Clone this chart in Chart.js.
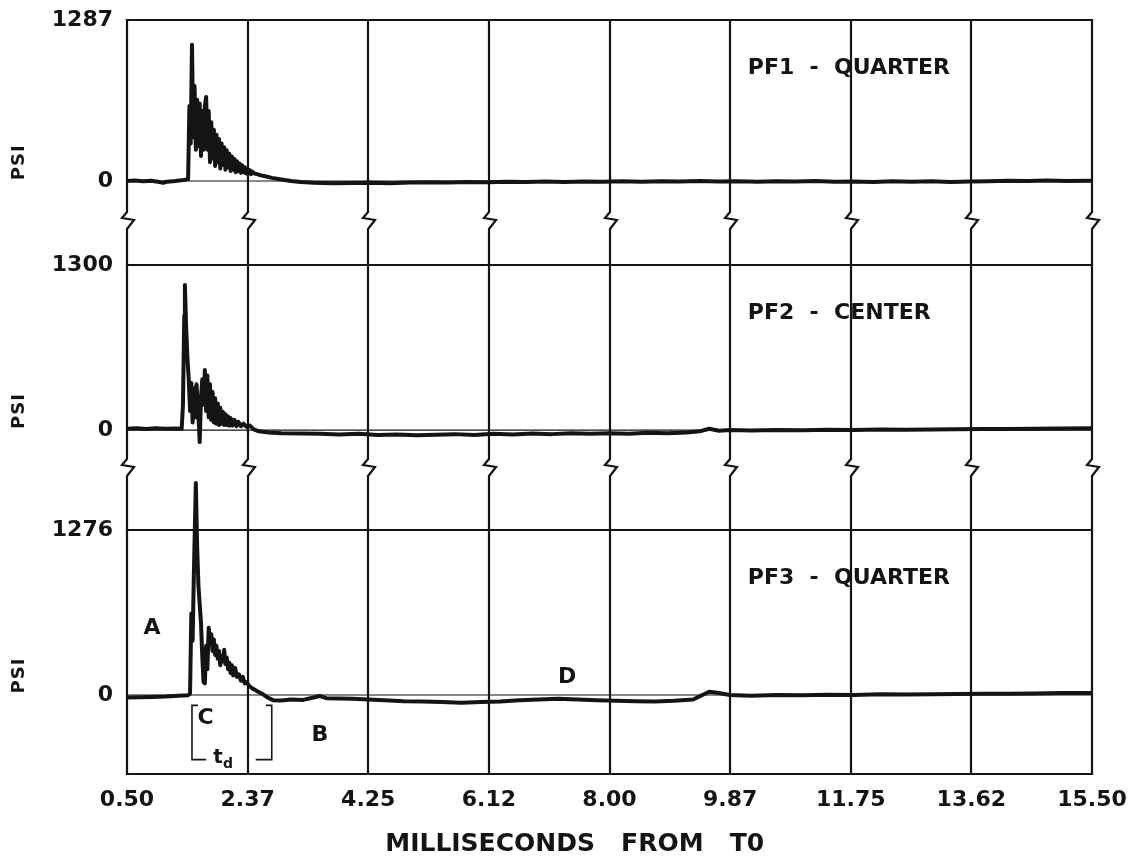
<!DOCTYPE html>
<html><head><meta charset="utf-8">
<script src="https://cdn.jsdelivr.net/npm/chart.js@4.4.1/dist/chart.umd.min.js"></script>
<style>html,body{margin:0;padding:0;background:#fff}#wrap{width:1129px;height:859px}</style>
</head><body><div id="wrap"><canvas id="c" width="1129" height="859"></canvas></div>
<script>
// ---------- data ----------
const xTickValues = [0.5, 2.375, 4.25, 6.125, 8.0, 9.875, 11.75, 13.625, 15.5];
const xTickLabels = ['0.50', '2.37', '4.25', '6.12', '8.00', '9.87', '11.75', '13.62', '15.50'];
const xTitle = 'MILLISECONDS   FROM   T0';
const panelNames = ['PF1  -  QUARTER', 'PF2  -  CENTER', 'PF3  -  QUARTER'];
const panelTopValues = [1287, 1300, 1276];
const yUnit = 'PSI';

const pf1Ms = [0.50, 0.62, 0.75, 0.88, 1.00, 1.06, 1.12, 1.25, 1.38, 1.45,
  1.47, 1.49, 1.51, 1.53, 1.55, 1.57, 1.59, 1.61, 1.63, 1.65, 1.67, 1.69, 1.71, 1.73, 1.75, 1.77, 1.79,
  1.81, 1.83, 1.85, 1.87, 1.89, 1.91, 1.93, 1.95, 1.97, 1.99, 2.01, 2.03, 2.05, 2.07, 2.09, 2.11, 2.13,
  2.15, 2.17, 2.19, 2.21, 2.23, 2.25, 2.27, 2.29, 2.31, 2.33, 2.35, 2.37, 2.39, 2.41, 2.43, 2.45, 2.48,
  2.52, 2.58, 2.65, 2.75, 2.90, 3.05, 3.20, 3.40, 3.70, 4.00, 4.30, 4.60, 4.90, 5.20, 5.50, 5.80, 6.10,
  6.40, 6.70, 7.00, 7.30, 7.60, 7.90, 8.20, 8.50, 8.80, 9.10, 9.40, 9.70, 10.00, 10.30, 10.60, 10.90,
  11.20, 11.50, 11.80, 12.10, 12.40, 12.70, 13.00, 13.30, 13.60, 13.90, 14.20, 14.50, 14.80, 15.10, 15.50];
const pf1Psi = [0, 3, -3, 2, -8, -14, -6, 0, 8, 15,
  600, 300, 1090, 350, 760, 250, 650, 280, 620, 200, 560, 250, 600, 671, 250, 560, 150,
  470, 180, 410, 120, 370, 150, 335, 100, 300, 130, 270, 90, 245, 110, 218, 80, 196,
  90, 176, 70, 158, 80, 140, 65, 125, 70, 110, 60, 98, 60, 86, 55, 74, 60,
  55, 45, 38, 25, 12, 0, -8, -14, -18, -16, -14, -18, -12, -10, -12, -8, -10,
  -6, -9, -5, -8, -4, -7, -3, -6, -2, -5, 0, -4, -2, -6, -3, -5,
  -1, -6, -4, -8, -3, -6, -2, -8, -4, -2, 2, 0, 3, 0, 2];

const pf2Ms = [0.50, 0.65, 0.80, 0.95, 1.10, 1.25, 1.35, 1.37, 1.39, 1.40, 1.42, 1.44, 1.46, 1.48, 1.50,
  1.52, 1.54, 1.56, 1.58, 1.60, 1.62, 1.63, 1.65, 1.67, 1.69, 1.71, 1.73, 1.75, 1.77, 1.79, 1.81, 1.83,
  1.85, 1.87, 1.89, 1.91, 1.93, 1.95, 1.97, 1.99, 2.01, 2.03, 2.05, 2.07, 2.09, 2.11, 2.14, 2.17, 2.20,
  2.23, 2.27, 2.31, 2.36, 2.41, 2.47, 2.55, 2.70, 2.90, 3.20, 3.50, 3.80, 4.10, 4.40, 4.70, 5.00, 5.30,
  5.60, 5.90, 6.20, 6.50, 6.80, 7.10, 7.40, 7.70, 8.00, 8.30, 8.60, 8.90, 9.20, 9.40, 9.55, 9.70, 9.87,
  10.20, 10.60, 11.00, 11.40, 11.80, 12.20, 12.60, 13.00, 13.40, 13.80, 14.20, 14.60, 15.00, 15.50];
const pf2Psi = [10, 15, 8, 14, 10, 12, 10, 200, 900, 1143, 800, 560, 400, 150, 370,
  60, 330, 100, 360, 200, 20, -95, 250, 400, 200, 473, 150, 430, 100, 360, 80, 300,
  60, 250, 50, 210, 40, 175, 50, 145, 40, 125, 40, 108, 35, 95, 35, 80, 30,
  65, 30, 50, 25, 35, 5, -10, -20, -25, -28, -30, -35, -30, -38, -34, -40, -36,
  -32, -38, -30, -34, -28, -32, -26, -30, -25, -30, -22, -25, -20, -10, 10, -5, 0,
  -3, 0, -2, 2, 0, 4, 2, 5, 6, 8, 8, 10, 12, 14];

const pf3Ms = [0.50, 0.70, 0.90, 1.10, 1.30, 1.45, 1.48, 1.50, 1.52, 1.54, 1.57, 1.59, 1.61, 1.63, 1.65,
  1.67, 1.69, 1.71, 1.73, 1.75, 1.77, 1.79, 1.81, 1.83, 1.85, 1.87, 1.89, 1.91, 1.93, 1.95, 1.97, 1.99,
  2.01, 2.03, 2.05, 2.07, 2.09, 2.11, 2.13, 2.15, 2.18, 2.21, 2.24, 2.27, 2.30, 2.33, 2.36, 2.40, 2.45,
  2.52, 2.60, 2.67, 2.77, 2.90, 3.05, 3.24, 3.40, 3.50, 3.60, 3.80, 4.00, 4.25, 4.50, 4.80, 5.10, 5.40,
  5.70, 6.00, 6.30, 6.60, 6.90, 7.20, 7.50, 7.80, 8.10, 8.40, 8.70, 9.00, 9.30, 9.55, 9.70, 9.87, 10.20,
  10.60, 11.00, 11.40, 11.80, 12.20, 12.60, 13.00, 13.40, 13.80, 14.20, 14.60, 15.00, 15.50];
const pf3Psi = [-20, -18, -15, -12, -6, -2, 10, 630, 420, 950, 1640, 1150, 850, 700, 560,
  300, 100, 90, 380, 200, 520, 400, 470, 340, 430, 310, 380, 280, 340, 230, 300, 260,
  350, 240, 290, 200, 250, 170, 230, 150, 210, 140, 160, 110, 140, 90, 100, 70, 50,
  30, 10, -15, -40, -42, -35, -38, -20, -8, -25, -28, -30, -35, -40, -48, -50, -55,
  -60, -55, -50, -40, -35, -30, -35, -40, -45, -48, -50, -45, -35, 25, 15, 0, -5,
  0, -2, 2, 0, 5, 3, 6, 8, 10, 10, 12, 15, 15];

// ---------- presentation ----------
const INK = '#141414';
const FONT = 'DejaVu Sans';
Chart.defaults.font.family = FONT;
Chart.defaults.color = INK;

// annotation marks on PF3 panel, in data coordinates (ms, psi)
const markers = [
  {text: 'A', x: 0.89, y: 518},
  {text: 'C', x: 1.72, y: -180},
  {text: 'B', x: 3.50, y: -310},
  {text: 'D', x: 7.34, y: 140}
];
const tdBracket = {x0: 1.51, x1: 2.75, yTop: -80, yBot: -500, gapL: 1.73, gapR: 2.50, label: 1.96};

const pts = (xs, ys) => xs.map((x, i) => ({x, y: ys[i]}));
const noPad = s => { s.paddingLeft = 0; s.paddingRight = 0; s.paddingTop = 0; s.paddingBottom = 0; };

function yAxis(top, min, max, stackWeight, weight) {
  return {
    type: 'linear', position: 'left', stack: 'panels', stackWeight, weight, min, max,
    grid: {display: false, drawTicks: false}, border: {display: false},
    afterBuildTicks: s => { s.ticks = [{value: 0}, {value: top}]; },
    afterFit: s => { s.width = 127; noPad(s); },
    ticks: {padding: 14, color: INK, font: {size: 22, weight: 'bold'}, callback: v => String(v)}
  };
}

const framePlugin = {
  id: 'frame',
  beforeDraw(chart) {
    const ctx = chart.ctx;
    ctx.save(); ctx.fillStyle = '#fff'; ctx.fillRect(0, 0, chart.width, chart.height); ctx.restore();
  },
  beforeDatasetsDraw(chart) {
    const {ctx, chartArea: ca, scales} = chart;
    const xs = scales.x;
    const ys = [scales.y1, scales.y2, scales.y3];
    const breaks = [ys[0].bottom, ys[1].bottom];
    ctx.save();
    ctx.strokeStyle = INK; ctx.lineWidth = 2.2; ctx.lineCap = 'square'; ctx.lineJoin = 'miter';
    xTickValues.forEach(v => {
      const px = Math.round(xs.getPixelForValue(v));
      ctx.beginPath();
      ctx.moveTo(px, ca.top);
      breaks.forEach(b => {
        ctx.lineTo(px, b - 8);
        ctx.lineTo(px - 5, b - 2);
        ctx.lineTo(px + 7, b);
        ctx.lineTo(px, b + 9);
      });
      ctx.lineTo(px, ca.bottom);
      ctx.stroke();
    });
    ys.forEach((s, i) => {
      const py = Math.round(s.getPixelForValue(panelTopValues[i]));
      ctx.beginPath(); ctx.moveTo(ca.left, py); ctx.lineTo(ca.right, py); ctx.stroke();
    });
    ctx.beginPath(); ctx.moveTo(ca.left, ca.bottom); ctx.lineTo(ca.right, ca.bottom); ctx.stroke();
    ctx.lineWidth = 1.2;
    ys.forEach(s => {
      const py = s.getPixelForValue(0);
      ctx.beginPath(); ctx.moveTo(ca.left, py); ctx.lineTo(ca.right, py); ctx.stroke();
    });
    ctx.restore();
  },
  afterDatasetsDraw(chart) {
    const {ctx, scales} = chart;
    const xs = scales.x;
    const ys = [scales.y1, scales.y2, scales.y3];
    ctx.save();
    ctx.fillStyle = INK;
    ctx.font = `bold 22px "${FONT}"`;
    ctx.textAlign = 'left'; ctx.textBaseline = 'middle';
    ys.forEach((s, i) => {
      const py = s.getPixelForValue(panelTopValues[i]) + 48;
      ctx.fillText(panelNames[i], xs.getPixelForValue(10.15), py);
    });
    ys.forEach(s => {
      ctx.save();
      ctx.translate(19, s.getPixelForValue(150));
      ctx.rotate(-Math.PI / 2);
      ctx.font = `bold 18px "${FONT}"`;
      ctx.textAlign = 'center'; ctx.textBaseline = 'middle';
      try { ctx.letterSpacing = '1px'; } catch (e) {}
      ctx.fillText(yUnit, 0, 0);
      ctx.restore();
    });
    const y3 = scales.y3;
    ctx.font = `bold 22px "${FONT}"`;
    ctx.textAlign = 'center'; ctx.textBaseline = 'middle';
    markers.forEach(m => ctx.fillText(m.text, xs.getPixelForValue(m.x), y3.getPixelForValue(m.y)));
    const b = tdBracket;
    const X = v => xs.getPixelForValue(v), Y = v => y3.getPixelForValue(v);
    ctx.strokeStyle = INK; ctx.lineWidth = 1.6;
    ctx.beginPath();
    ctx.moveTo(X(b.x0) + 6, Y(b.yTop)); ctx.lineTo(X(b.x0), Y(b.yTop)); ctx.lineTo(X(b.x0), Y(b.yBot)); ctx.lineTo(X(b.gapL), Y(b.yBot));
    ctx.moveTo(X(b.gapR), Y(b.yBot)); ctx.lineTo(X(b.x1), Y(b.yBot)); ctx.lineTo(X(b.x1), Y(b.yTop)); ctx.lineTo(X(b.x1) - 6, Y(b.yTop));
    ctx.stroke();
    ctx.font = `bold 20px "${FONT}"`;
    ctx.textAlign = 'right'; ctx.textBaseline = 'middle';
    ctx.fillText('t', X(b.label) + 2, Y(b.yBot) - 2);
    ctx.font = `bold 14px "${FONT}"`;
    ctx.textAlign = 'left';
    ctx.fillText('d', X(b.label) + 2, Y(b.yBot) + 5);
    ctx.restore();
  }
};

const lineStyle = {borderColor: INK, borderWidth: 4, pointRadius: 0, tension: 0, fill: false, borderJoinStyle: 'round', borderCapStyle: 'round'};

new Chart(document.getElementById('c'), {
  type: 'line',
  data: {
    datasets: [
      Object.assign({label: panelNames[0], data: pts(pf1Ms, pf1Psi), yAxisID: 'y1'}, lineStyle),
      Object.assign({label: panelNames[1], data: pts(pf2Ms, pf2Psi), yAxisID: 'y2'}, lineStyle),
      Object.assign({label: panelNames[2], data: pts(pf3Ms, pf3Psi), yAxisID: 'y3'}, lineStyle)
    ]
  },
  options: {
    responsive: false, animation: false, devicePixelRatio: 1, events: [],
    layout: {padding: {top: 20, right: 37, bottom: 0, left: 0}},
    plugins: {legend: {display: false}, tooltip: {enabled: false}},
    scales: {
      x: {
        type: 'linear', position: 'bottom', min: 0.5, max: 15.5,
        grid: {display: false, drawTicks: false}, border: {display: false},
        afterBuildTicks: s => { s.ticks = xTickValues.map(v => ({value: v})); },
        afterFit: s => { s.height = 85; noPad(s); },
        ticks: {padding: 13, autoSkip: false, maxRotation: 0, color: INK, font: {size: 22, weight: 'bold'}, callback: (v, i) => xTickLabels[i]},
        title: {display: true, text: xTitle + '\u00a0'.repeat(8), color: INK, font: {size: 25, weight: 'bold'}, padding: {top: 0, bottom: 0}}
      },
      y1: yAxis(panelTopValues[0], -312, 1287, 200, 3),
      y2: yAxis(panelTopValues[1], -291, 1655, 247, 2),
      y3: yAxis(panelTopValues[2], -611, 1763, 307, 1)
    }
  },
  plugins: [framePlugin]
});
</script>
</body></html>
